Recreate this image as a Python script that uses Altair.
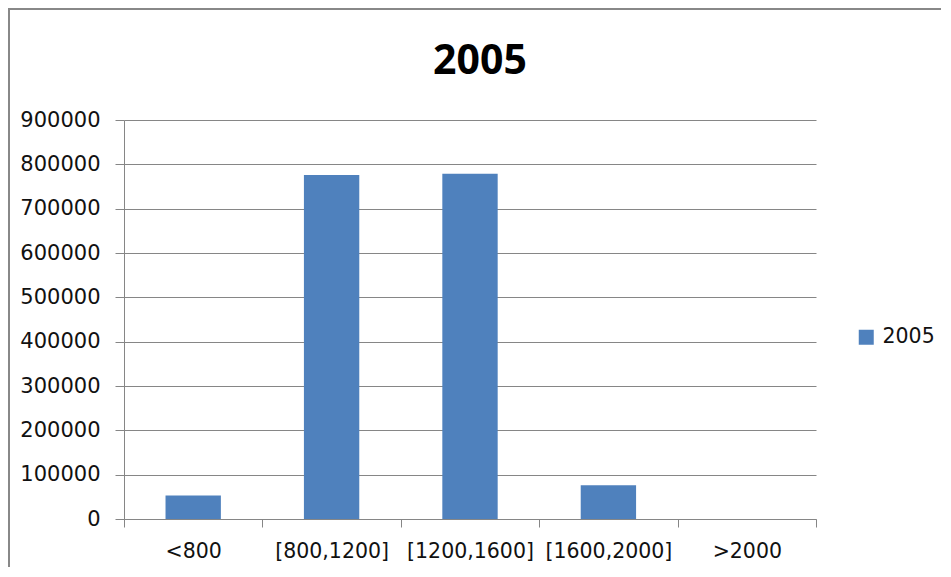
import altair as alt
import pandas as pd

categories = ["<800", "[800,1200]", "[1200,1600]", "[1600,2000]", ">2000"]
values_2005 = [53000, 776000, 779000, 76000, 0]
series_name = ["2005"] * len(categories)
y_ticks = [0, 100000, 200000, 300000, 400000, 500000, 600000, 700000, 800000, 900000]

df = pd.DataFrame({"range": categories, "value": values_2005, "series": series_name})

FONT = "DejaVu Sans"
GRID = "#868686"

bars = alt.Chart(df).mark_bar(width=alt.RelativeBandSize(0.4), color="#4F81BD").encode(
    x=alt.X(
        "range:N",
        sort=categories,
        scale=alt.Scale(paddingInner=0, paddingOuter=0),
        axis=alt.Axis(
            title=None,
            labelAngle=0,
            tickBand="extent",
            tickSize=8,
            tickColor=GRID,
            domainColor=GRID,
            labelFont=FONT,
            labelFontSize=20.5,
            labelColor="#111111",
            labelPadding=14,
            grid=False,
        ),
    ),
    y=alt.Y(
        "value:Q",
        scale=alt.Scale(domain=[0, 900000], nice=False),
        axis=alt.Axis(
            title=None,
            values=y_ticks,
            format="d",
            tickSize=9,
            tickColor=GRID,
            domainColor=GRID,
            gridColor=GRID,
            labelFont=FONT,
            labelFontSize=21,
            labelColor="#111111",
            labelPadding=15,
        ),
    ),
    fill=alt.Fill(
        "series:N",
        scale=alt.Scale(range=["#4F81BD"]),
        legend=alt.Legend(
            title=None,
            orient="none",
            legendX=732,
            legendY=207,
            symbolType="square",
            symbolSize=225,
            symbolStrokeWidth=0,
            labelFont=FONT,
            labelFontSize=20.5,
            labelColor="#111111",
            labelOffset=6,
        ),
    ),
)

frame = alt.Chart(pd.DataFrame({"f": [0]})).mark_rect(
    fill=None, stroke="#888888", strokeWidth=2, clip=False
).encode(
    x=alt.value(-115),
    x2=alt.value(900),
    y=alt.value(-111),
    y2=alt.value(600),
)

chart = alt.layer(frame, bars).properties(
    width=692,
    height=399,
    padding={"left": 116, "top": 112, "right": 125, "bottom": 48},
    autosize=alt.AutoSizeParams(type="none"),
    title=alt.TitleParams(
        "2005",
        font="Open Sans",
        fontSize=41,
        fontWeight="bold",
        color="#000000",
        anchor="middle",
        frame="group",
        baseline="alphabetic",
        dx=10,
        dy=107,
        offset=0,
    ),
).configure_view(stroke=None)

chart.save("out.html", embed_options={"renderer": "svg", "actions": False})
